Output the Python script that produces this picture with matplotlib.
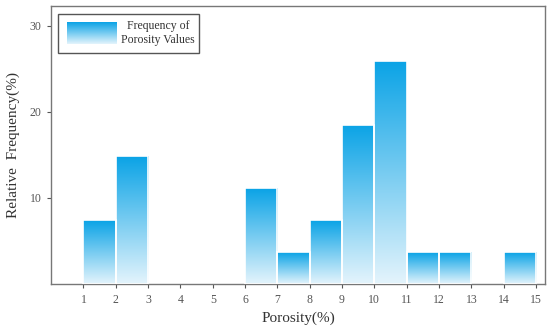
import matplotlib.pyplot as plt
import numpy as np
from matplotlib.patches import Rectangle

bin_left = [1, 2, 6, 7, 8, 9, 10, 11, 12, 14]
freq = [7.41, 14.81, 11.11, 3.70, 7.41, 18.52, 25.93, 3.70, 3.70, 3.70]
xticks = list(range(1, 16))
yticks = [10, 20, 30]

plt.rcParams['font.family'] = ['Liberation Serif', 'DejaVu Serif']

fig = plt.figure(figsize=(5.5, 3.26), dpi=100)
ax = fig.add_axes([0.093, 0.129, 0.898, 0.853])

# vertical gradient: dark blue at top, pale at bottom
top_c = np.array([0x0a, 0xa3, 0xe6]) / 255
bot_c = np.array([0xe4, 0xf4, 0xfc]) / 255
t = np.linspace(0, 1, 256)[:, None]
grad = (bot_c * (1 - t) + top_c * t).reshape(256, 1, 3)

for x0, h in zip(bin_left, freq):
    im = ax.imshow(grad, extent=(x0, x0 + 1, 0, h), origin='lower',
                   aspect='auto', zorder=2, interpolation='bilinear')
    r = Rectangle((x0, 0), 1, h, facecolor='none', edgecolor='white', lw=1.2, zorder=3)
    ax.add_patch(r)
    im.set_clip_path(r)

ax.set_xlim(0, 15.28)
ax.set_ylim(0, 32.3)
ax.set_xticks(xticks)
ax.set_yticks(yticks)
ax.tick_params(labelsize=8.5, colors='#555555', length=3, width=0.8, pad=4)
for s in ax.spines.values():
    s.set_color('#777777')
    s.set_linewidth(1.0)

ax.set_xlabel('Porosity(%)', fontsize=11, color='#333333', labelpad=4)
ax.set_ylabel('Relative  Frequency(%)', fontsize=11, color='#333333', labelpad=7)

# legend drawn by hand so the swatch can carry the gradient
ax.add_patch(Rectangle((0.014, 0.832), 0.285, 0.14, transform=ax.transAxes,
                       facecolor='white', edgecolor='#555555', lw=1.0, zorder=4))
ax.imshow(grad, extent=(0.033, 0.133, 0.862, 0.94), transform=ax.transAxes,
          origin='lower', aspect='auto', zorder=5)
ax.text(0.216, 0.902, 'Frequency of\nPorosity Values', transform=ax.transAxes,
        ha='center', va='center', fontsize=8.5, color='#333333', zorder=6,
        linespacing=1.15)
ax.set_xlim(0, 15.28)
ax.set_ylim(0, 32.3)

fig.savefig('out.png', dpi=100)
